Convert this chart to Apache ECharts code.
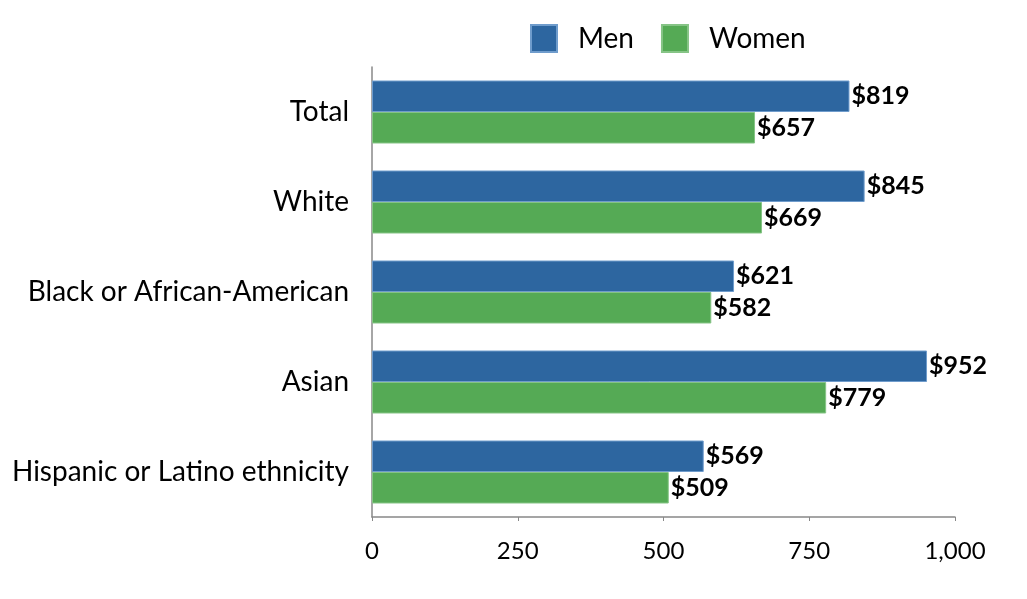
<!DOCTYPE html>
<html>
<head>
<meta charset="utf-8">
<script src="https://cdn.jsdelivr.net/npm/echarts@6/dist/echarts.min.js"></script>
<style>html,body{margin:0;padding:0;background:#fff;}#c{width:1027px;height:599px;}</style>
</head>
<body>
<div id="c"></div>
<script>
const categories = ["Total", "White", "Black or African-American", "Asian", "Hispanic or Latino ethnicity"];
const men = [819, 845, 621, 952, 569];
const women = [657, 669, 582, 779, 509];
const xTicks = [0, 250, 500, 750, 1000];

const FONT = 'Lato, "Open Sans", sans-serif';
const chart = echarts.init(document.getElementById('c'), null, {renderer: 'canvas'});
const labelCfg = {
  show: true, position: 'right', distance: 2,
  formatter: p => '$' + p.value,
  color: '#000', fontSize: 25, fontFamily: FONT, fontWeight: 'bold'
};
chart.setOption({
  animation: false,
  backgroundColor: '#fff',
  legend: {
    top: 19, left: 525,
    itemWidth: 26, itemHeight: 27, itemGap: 27,
    icon: 'rect',
    textStyle: {fontSize: 28, fontFamily: FONT, color: '#000', padding: [0, 0, 0, 16]},
    data: ['Men', 'Women']
  },
  grid: {left: 372, right: 72, top: 67, bottom: 82, containLabel: false},
  xAxis: {
    type: 'value', min: 0, max: 1000, interval: 250,
    axisLine: {show: true, lineStyle: {color: '#888', width: 1.5}},
    axisTick: {show: true, length: 4, inside: false, lineStyle: {color: '#888'}},
    splitLine: {show: false},
    axisLabel: {
      color: '#000', fontSize: 24, fontFamily: FONT, margin: 22,
      formatter: v => xTicks.includes(v) ? v.toLocaleString('en-US') : ''
    }
  },
  yAxis: {
    type: 'category', data: categories, inverse: true,
    axisLine: {show: true, lineStyle: {color: '#888', width: 1.5}},
    axisTick: {show: false},
    axisLabel: {color: '#000', fontSize: 28, fontFamily: FONT, margin: 23, padding: [4, 0, 0, 0]}
  },
  series: [
    {name: 'Men', type: 'bar', data: men, barGap: '0%', barCategoryGap: '30%',
     itemStyle: {color: '#2d66a0', borderColor: '#6f9ccc', borderWidth: 1}, label: labelCfg},
    {name: 'Women', type: 'bar', data: women, barGap: '0%', barCategoryGap: '30%',
     itemStyle: {color: '#55aa55', borderColor: '#86c486', borderWidth: 1}, label: labelCfg}
  ]
});
</script>
</body>
</html>
